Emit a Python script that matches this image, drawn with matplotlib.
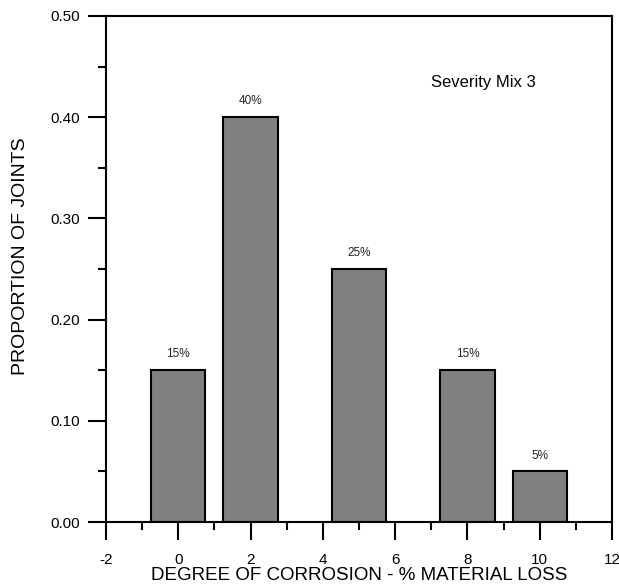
import matplotlib
matplotlib.use("Agg")
import matplotlib.pyplot as plt
from matplotlib.ticker import MultipleLocator, FormatStrFormatter

plt.rcParams["font.family"] = ["Liberation Sans", "DejaVu Sans"]
plt.rcParams["axes.unicode_minus"] = False

# corrosion level (% material loss) and share of joints
loss = [0, 2, 5, 8, 10]
proportion = [0.15, 0.40, 0.25, 0.15, 0.05]
pct_labels = ["15%", "40%", "25%", "15%", "5%"]

fig = plt.figure(figsize=(6.19, 5.86), dpi=100)
ax = fig.add_axes([0.1712, 0.1092, 0.8175, 0.8635])

ax.bar(loss, proportion, width=1.5, color="#808080", edgecolor="black", linewidth=1.5, zorder=2)
for x, y, s in zip(loss, proportion, pct_labels):
    ax.annotate(s, (x, y), xytext=(0, 7), textcoords="offset points",
                ha="center", va="bottom", fontsize=8.5, color="#222222")

ax.text(7.0, 0.434, "Severity Mix 3", fontsize=12, va="center", ha="left")

ax.set_xlim(-2, 12)
ax.set_ylim(0, 0.5)
ax.xaxis.set_major_locator(MultipleLocator(2))
ax.xaxis.set_minor_locator(MultipleLocator(1))
ax.yaxis.set_major_locator(MultipleLocator(0.1))
ax.yaxis.set_minor_locator(MultipleLocator(0.05))
ax.yaxis.set_major_formatter(FormatStrFormatter("%.2f"))

ax.tick_params(which="major", direction="out", length=13, width=1.5, labelsize=11)
ax.tick_params(axis="y", which="major", pad=6)
ax.tick_params(axis="x", which="major", pad=9)
ax.tick_params(which="minor", direction="out", length=6, width=1.5)
ax.tick_params(top=False, right=False, which="both")
for sp in ax.spines.values():
    sp.set_linewidth(1.5)

ax.set_xlabel("DEGREE OF CORROSION - % MATERIAL LOSS", fontsize=13.5, labelpad=0)
ax.set_ylabel("PROPORTION OF JOINTS", fontsize=14)
ax.yaxis.set_label_coords(-0.152, 0.526)

fig.savefig("out.png", dpi=100)
